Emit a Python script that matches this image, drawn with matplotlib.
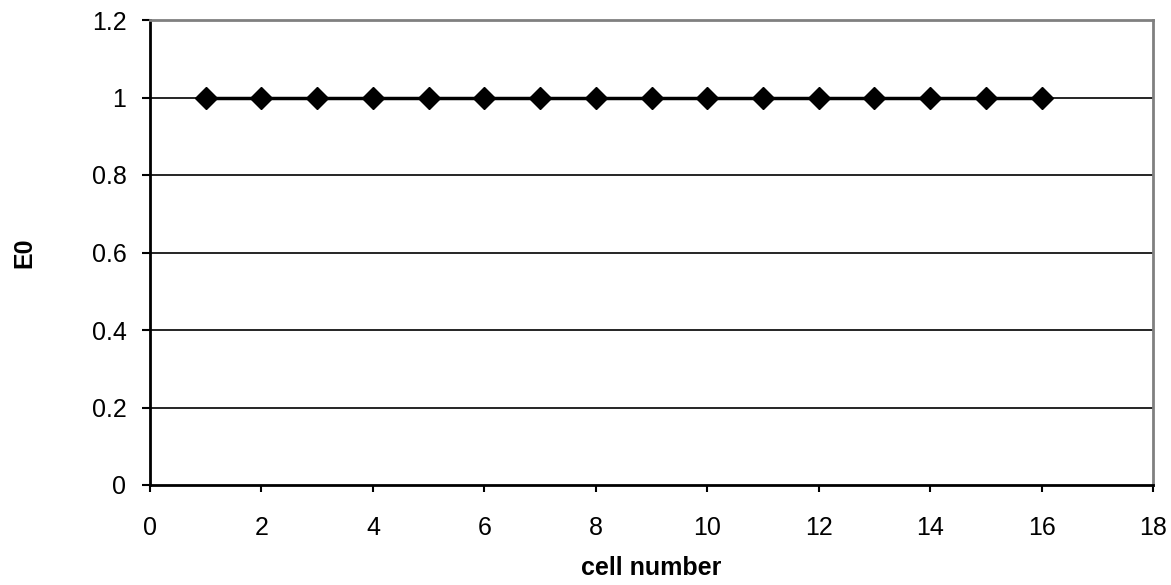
import matplotlib
matplotlib.use("Agg")
import matplotlib.pyplot as plt

# cell number vs E0
cells = [1, 2, 3, 4, 5, 6, 7, 8, 9, 10, 11, 12, 13, 14, 15, 16]
e0 = [1, 1, 1, 1, 1, 1, 1, 1, 1, 1, 1, 1, 1, 1, 1, 1]
x_ticks = [0, 2, 4, 6, 8, 10, 12, 14, 16, 18]
y_ticks = [0, 0.2, 0.4, 0.6, 0.8, 1, 1.2]
y_labels = ["0", "0.2", "0.4", "0.6", "0.8", "1", "1.2"]

plt.rcParams['font.family'] = ['Liberation Sans', 'DejaVu Sans']

fig = plt.figure(figsize=(11.71, 5.85), dpi=100)
ax = fig.add_axes([150 / 1171, 100 / 585, 1003 / 1171, 465 / 585])

for y in y_ticks[1:-1]:
    ax.axhline(y, color='black', linewidth=1.2, zorder=1)

ax.plot(cells, e0, color='black', linewidth=2.5, marker='D', markersize=11,
        markerfacecolor='black', markeredgecolor='black', zorder=3, clip_on=False)

ax.set_xlim(0, 18)
ax.set_ylim(0, 1.2)
ax.set_xticks(x_ticks)
ax.set_yticks(y_ticks)
ax.set_yticklabels(y_labels)

ax.spines['left'].set_color('black')
ax.spines['left'].set_linewidth(2)
ax.spines['bottom'].set_color('black')
ax.spines['bottom'].set_linewidth(2)
ax.spines['top'].set_color('#808080')
ax.spines['top'].set_linewidth(2)
ax.spines['right'].set_color('#808080')
ax.spines['right'].set_linewidth(2)

ax.tick_params(axis='y', direction='out', length=6, width=1.5, pad=11, labelsize=18)
ax.tick_params(axis='x', direction='out', length=5, width=1.5, pad=17, labelsize=18)

ax.set_xlabel('cell number', fontsize=18, fontweight='bold', labelpad=12)
ax.set_ylabel('E0', fontsize=18, fontweight='bold', labelpad=40)

fig.savefig('out.png', dpi=100)
